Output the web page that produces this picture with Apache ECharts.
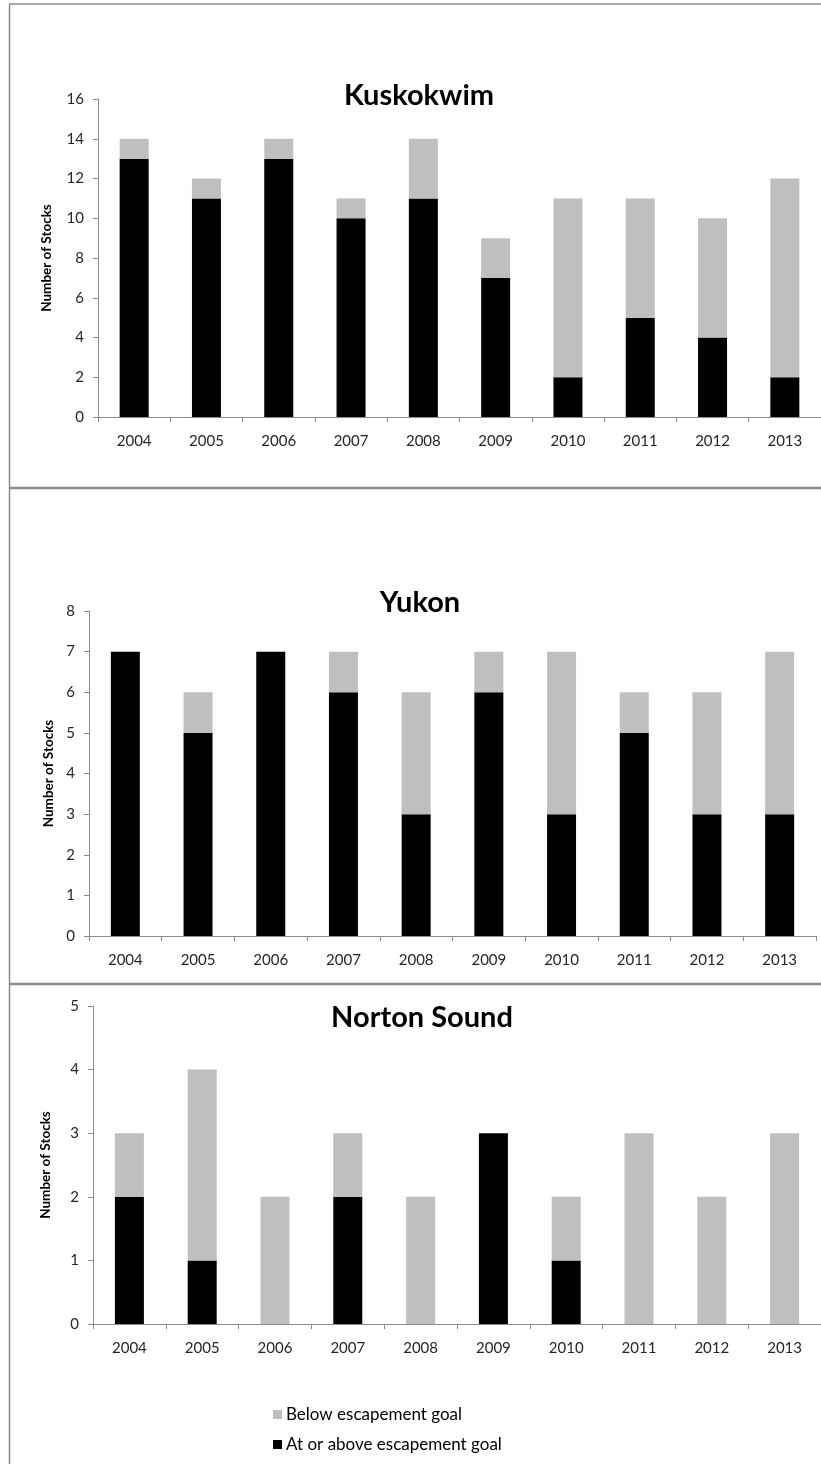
<!DOCTYPE html>
<html>
<head>
<meta charset="utf-8">
<script src="https://cdn.jsdelivr.net/npm/echarts@6/dist/echarts.min.js"></script>
<style>
html,body{margin:0;padding:0;background:#fff;}
#c{width:821px;height:1464px;}
</style>
</head>
<body>
<div id="c"></div>
<script>
var years = ['2004','2005','2006','2007','2008','2009','2010','2011','2012','2013'];
var panelTitles = ['Kuskokwim','Yukon','Norton Sound'];
var seriesNames = ['At or above escapement goal','Below escapement goal'];

var kuskokwimAbove = [13,11,13,10,11,7,2,5,4,2];
var kuskokwimBelow = [1,1,1,1,3,2,9,6,6,10];
var yukonAbove = [7,5,7,6,3,6,3,5,3,3];
var yukonBelow = [0,1,0,1,3,1,4,1,3,4];
var nortonAbove = [2,1,0,2,0,3,1,0,0,0];
var nortonBelow = [1,3,2,1,2,0,1,3,2,3];

var yMax = [16, 8, 5];
var yInterval = [2, 1, 1];

var aboveData = [kuskokwimAbove, yukonAbove, nortonAbove];
var belowData = [kuskokwimBelow, yukonBelow, nortonBelow];

var FONT = 'Lato';
var AXIS_COLOR = '#8c8c8c';
var TEXT_COLOR = '#262626';

var grids = [
  {left: 98, top: 99, width: 727, height: 318},
  {left: 89, top: 611, width: 727, height: 325},
  {left: 93, top: 1006, width: 730, height: 318}
];
var nameGaps = [44, 32, 40];
var titleTops = [81, 588, 1003];
var titleLefts = [419, 420, 422];

var xAxes = [], yAxes = [], series = [], titles = [];
for (var i = 0; i < 3; i++) {
  xAxes.push({
    type: 'category', gridIndex: i, data: years,
    axisLine: {show: true, lineStyle: {color: AXIS_COLOR, width: 1}},
    axisTick: {show: true, length: 5, lineStyle: {color: AXIS_COLOR}},
    axisLabel: {color: TEXT_COLOR, fontFamily: FONT, fontSize: 15, margin: 17},
    splitLine: {show: false}
  });
  yAxes.push({
    type: 'value', gridIndex: i, min: 0, max: yMax[i], interval: yInterval[i],
    name: 'Number of Stocks', nameLocation: 'middle', nameGap: nameGaps[i],
    nameTextStyle: {fontFamily: FONT, fontWeight: 'bold', fontSize: 13.5, color: '#000'},
    axisLine: {show: true, lineStyle: {color: AXIS_COLOR, width: 1}},
    axisTick: {show: true, length: 5, lineStyle: {color: AXIS_COLOR}},
    axisLabel: {color: TEXT_COLOR, fontFamily: FONT, fontSize: 15, margin: 14},
    splitLine: {show: false}
  });
  series.push({
    name: seriesNames[0], type: 'bar', stack: 's' + i,
    xAxisIndex: i, yAxisIndex: i, data: aboveData[i],
    barWidth: 29, itemStyle: {color: '#000000'}
  });
  series.push({
    name: seriesNames[1], type: 'bar', stack: 's' + i,
    xAxisIndex: i, yAxisIndex: i, data: belowData[i],
    barWidth: 29, itemStyle: {color: '#bfbfbf'}
  });
  titles.push({
    text: panelTitles[i], left: titleLefts[i], top: titleTops[i], textAlign: 'center',
    padding: 0,
    textStyle: {fontFamily: FONT, fontWeight: 'bold', fontSize: 29, color: '#000'}
  });
}

var chart = echarts.init(document.getElementById('c'), null, {renderer: 'canvas'});
chart.setOption({
  backgroundColor: '#ffffff',
  animation: false,
  title: titles,
  grid: grids,
  xAxis: xAxes,
  yAxis: yAxes,
  series: series,
  legend: {
    data: [seriesNames[1], seriesNames[0]],
    orient: 'vertical', left: 268, top: 1401,
    itemWidth: 9, itemHeight: 9, itemGap: 13,
    icon: 'rect',
    textStyle: {fontFamily: FONT, fontSize: 17, color: '#000', padding: [0,0,0,-1]}
  },
  graphic: [
    {type: 'line', shape: {x1: 9.5, y1: 4, x2: 9.5, y2: 1464}, style: {stroke: '#8c8c8c', lineWidth: 1.5}},
    {type: 'line', shape: {x1: 9, y1: 4, x2: 821, y2: 4}, style: {stroke: '#8c8c8c', lineWidth: 1.5}},
    {type: 'line', shape: {x1: 9, y1: 488, x2: 821, y2: 488}, style: {stroke: '#8c8c8c', lineWidth: 2.5}},
    {type: 'line', shape: {x1: 9, y1: 984, x2: 821, y2: 984}, style: {stroke: '#8c8c8c', lineWidth: 2.5}}
  ]
});
</script>
</body>
</html>
